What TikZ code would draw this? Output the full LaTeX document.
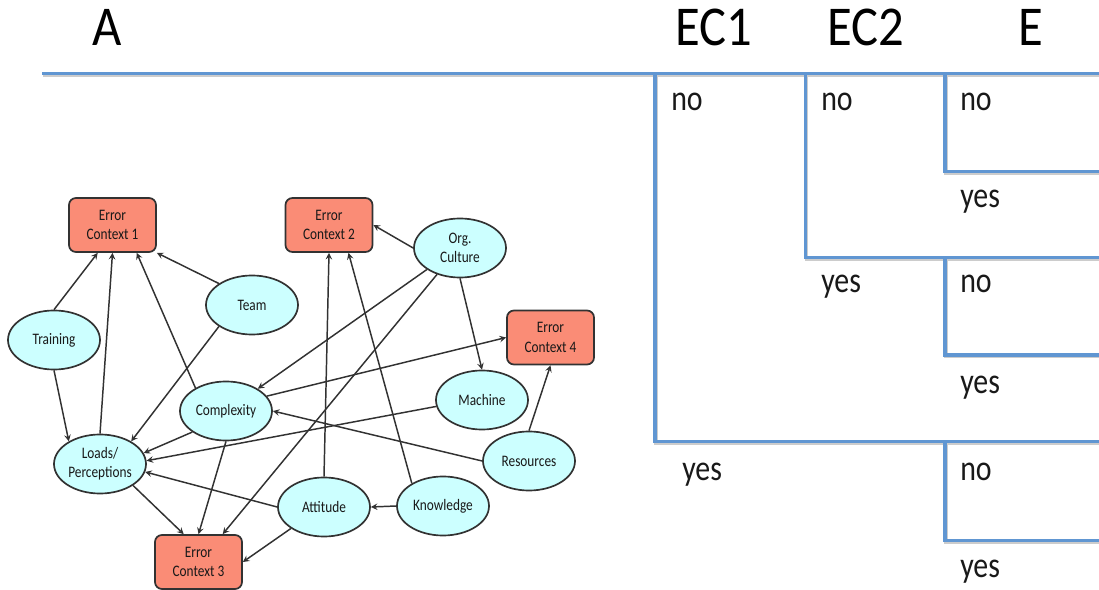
\documentclass[tikz,border=0pt]{standalone}
\usepackage{fontspec}
\setmainfont{Carlito}
\newfontfamily\slimfont[FakeStretch=0.83]{Carlito}
\newfontfamily\tallfont[FakeStretch=0.9]{Carlito}
\usepackage{tikz}
\usetikzlibrary{arrows, shapes.geometric}
\definecolor{errorred}{RGB}{250,140,118}
\definecolor{factorcyan}{RGB}{204,255,255}
\definecolor{treeblue}{RGB}{96,150,210}
\definecolor{darkline}{RGB}{50,50,50}
\tikzset{
    errorbox/.style={ % error contexts
        draw=darkline, fill=errorred, line width=1.2pt,
        rounded corners=5pt, minimum width=2.175cm, minimum height=1.35cm,
        inner sep=0pt, align=center, text=black!90,
        font=\slimfont\fontsize{11.4}{13.7}\selectfont
    },
    factor/.style={ % influencing factors
        ellipse, draw=darkline, fill=factorcyan, line width=1.2pt,
        minimum width=2.3cm, minimum height=1.475cm, inner sep=0pt,
        align=center, text=black!90,
        font=\slimfont\fontsize{11.4}{13.7}\selectfont
    },
    every edge/.style={ % influence arrows
        draw=darkline, ->, >=stealth, line width=1.05pt
    },
    branch/.style={ % blue tree lines
        draw=treeblue, line width=0.08cm,
        preaction={draw=black!20, line width=0.08cm,
                   transform canvas={shift={(0.025cm,-0.04cm)}}}
    },
    heading/.style={anchor=base, inner sep=0pt,
        font=\tallfont\fontsize{40}{48}\selectfont},
    answer/.style={anchor=base west, inner sep=0pt, text=black!90,
        font=\slimfont\fontsize{25.6}{30}\selectfont}
}

\begin{document}
\begin{tikzpicture}[x=0.025cm, y=-0.025cm]
    \useasboundingbox (0,0) rectangle (1099,590);
    % kopfzeile
    \node[heading] (hA)   at (107,46)  {A};
    \node[heading] (hEC1) at (714,46)  {EC1};
    \node[heading] (hEC2) at (866,46)  {EC2};
    \node[heading] (hE)   at (1031,46) {E};

    % baum
    \draw[branch] (42,73.5) -- (1099,73.5);
    \draw[branch] (655,73.5)   |- (1099,441.5);
    \draw[branch] (805.5,73.5) |- (1099,257.5);
    \draw[branch] (945,73.5)   |- (1099,171.5);
    \draw[branch] (945,257.5)  |- (1099,355);
    \draw[branch] (945,441.5)  |- (1099,540.5);

    \node[answer] (no1)  at (671,110.5) {no};
    \node[answer] (no2)  at (821,110.5) {no};
    \node[answer] (no3)  at (960,110.5) {no};
    \node[answer] (yes3) at (960,208)   {yes};
    \node[answer] (yes2) at (821,293)   {yes};
    \node[answer] (no4)  at (960,293)   {no};
    \node[answer] (yes4) at (960,393)   {yes};
    \node[answer] (yes1) at (682,480)   {yes};
    \node[answer] (no5)  at (960,480)   {no};
    \node[answer] (yes5) at (960,577)   {yes};

    % fehlerkontexte
    \node[errorbox] (ec1) at (112.5,225) {Error\\Context 1};
    \node[errorbox] (ec2) at (329,225)   {Error\\Context 2};
    \node[errorbox] (ec4) at (550.5,337.5) {Error\\Context 4};
    \node[errorbox] (ec3) at (198.5,562) {Error\\Context 3};
    % faktoren
    \node[factor] (train) at (54,340)  {Training};
    \node[factor] (team)  at (252,305) {Team};
    \node[factor] (org)   at (460,248) {Org.\\Culture};
    \node[factor] (cplx)  at (226,411) {Complexity};
    \node[factor] (loads) at (100,464) {Loads/\\Perceptions};
    \node[factor] (mach)  at (482,400) {Machine};
    \node[factor] (res)   at (529,461) {Resources};
    \node[factor] (att)   at (324,507) {Attitude};
    \node[factor] (know)  at (443,506) {Knowledge};

    \draw
        % nach ec1
        (train.north) edge (ec1.-118)
        (loads.north) edge (ec1.south)
        (cplx.143)    edge (ec1.-49)
        (team.147)    edge (ec1.south east)
        % nach loads
        (train.south) edge (loads.144)
        (team.213)    edge (loads.36)
        (cplx.212)    edge (loads.14)
        (mach.188)    edge (loads.4)
        (att.west)    edge (loads.-10)
        % org. culture
        (org.west)    edge (ec2.east)
        (org.213)     edge (cplx.35)
        (org.229)     edge (ec3.49)
        (org.south)   edge (mach.north)
        % complexity
        (cplx.20)     edge (ec4.west)
        (cplx.south)  edge (ec3.north)
        (res.west)    edge (cplx.east)
        (res.north)   edge (ec4.south)
        % attitude, knowledge
        (att.north)   edge (ec2.south)
        (know.144)    edge (ec2.-55)
        (att.213)     edge (ec3.east)
        (know.west)   edge (att.east)
        (loads.-33)   edge (ec3.118)
    ;
\end{tikzpicture}
\end{document}
